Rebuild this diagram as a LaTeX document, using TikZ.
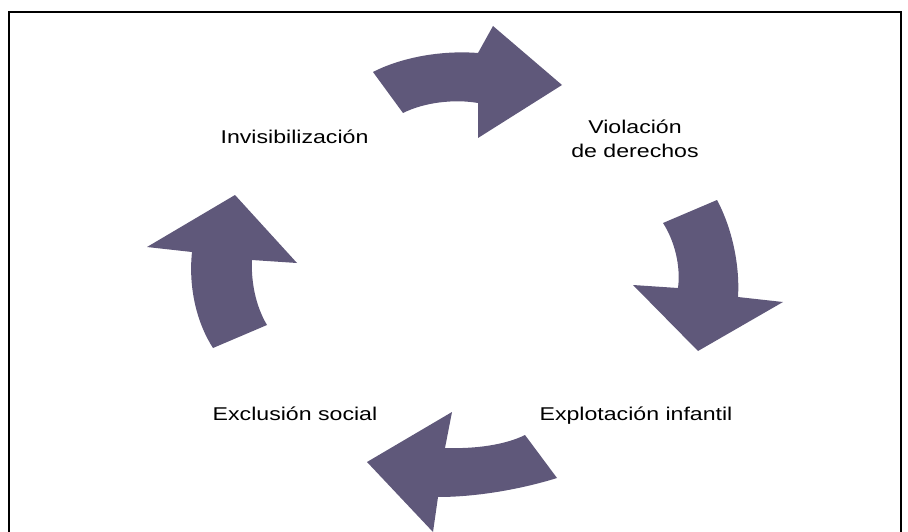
\documentclass[tikz,border=0pt]{standalone}
\usepackage{fontspec}
\setmainfont{Liberation Sans}
\definecolor{cyclecol}{RGB}{95,88,122}
\tikzset{
  stage/.style={font=\fontsize{18.5}{24.5}\selectfont, align=center, inner sep=0pt, anchor=base},
  cyclearrow/.style={fill=cyclecol, draw=none}
}
\newcommand{\wide}[1]{\scalebox{1.25}[1]{#1}}
\begin{document}
\begin{tikzpicture}[x=1pt, y=-1pt]
      \useasboundingbox (0,0) rectangle (908,532);
      \draw[line width=2pt] (8.5,532) -- (8.5,12.5) -- (901,12.5) -- (901,532);

      \node[stage] (inv) at (294.5,144) {\wide{Invisibilización}};
      \node[stage] (vio) at (635,158) {\wide{Violación}\\\wide{de derechos}};
      \node[stage] (exp) at (636,420) {\wide{Explotación infantil}};
      \node[stage] (exc) at (295,420) {\wide{Exclusión social}};

      % top arrow
      \fill[cyclearrow] (373,72) .. controls (400,58) and (440,50) .. (478,53)
        -- (493,26) -- (562,85) -- (478,138) -- (478,103)
        .. controls (455,99) and (425,102) .. (403,113) -- cycle;
      % right arrow
      \fill[cyclearrow] (717,200) -- (663,223)
        .. controls (674,240) and (681,265) .. (678,288)
        -- (633,285) -- (698,351) -- (783,302) -- (738,297)
        .. controls (740,265) and (732,228) .. (717,200) -- cycle;
      % bottom arrow
      \fill[cyclearrow] (557,478) -- (525,435)
        .. controls (505,445) and (475,449) .. (445,448)
        -- (452,412) -- (367,462) -- (433,532) -- (438,497)
        .. controls (480,497) and (525,488) .. (557,478) -- cycle;
      % left arrow
      \fill[cyclearrow] (213,348) -- (267,325)
        .. controls (255,305) and (251,280) .. (252,260)
        -- (297,263) -- (235,195) -- (147,247) -- (192,252)
        .. controls (188,290) and (198,325) .. (213,348) -- cycle;
\end{tikzpicture}
\end{document}
